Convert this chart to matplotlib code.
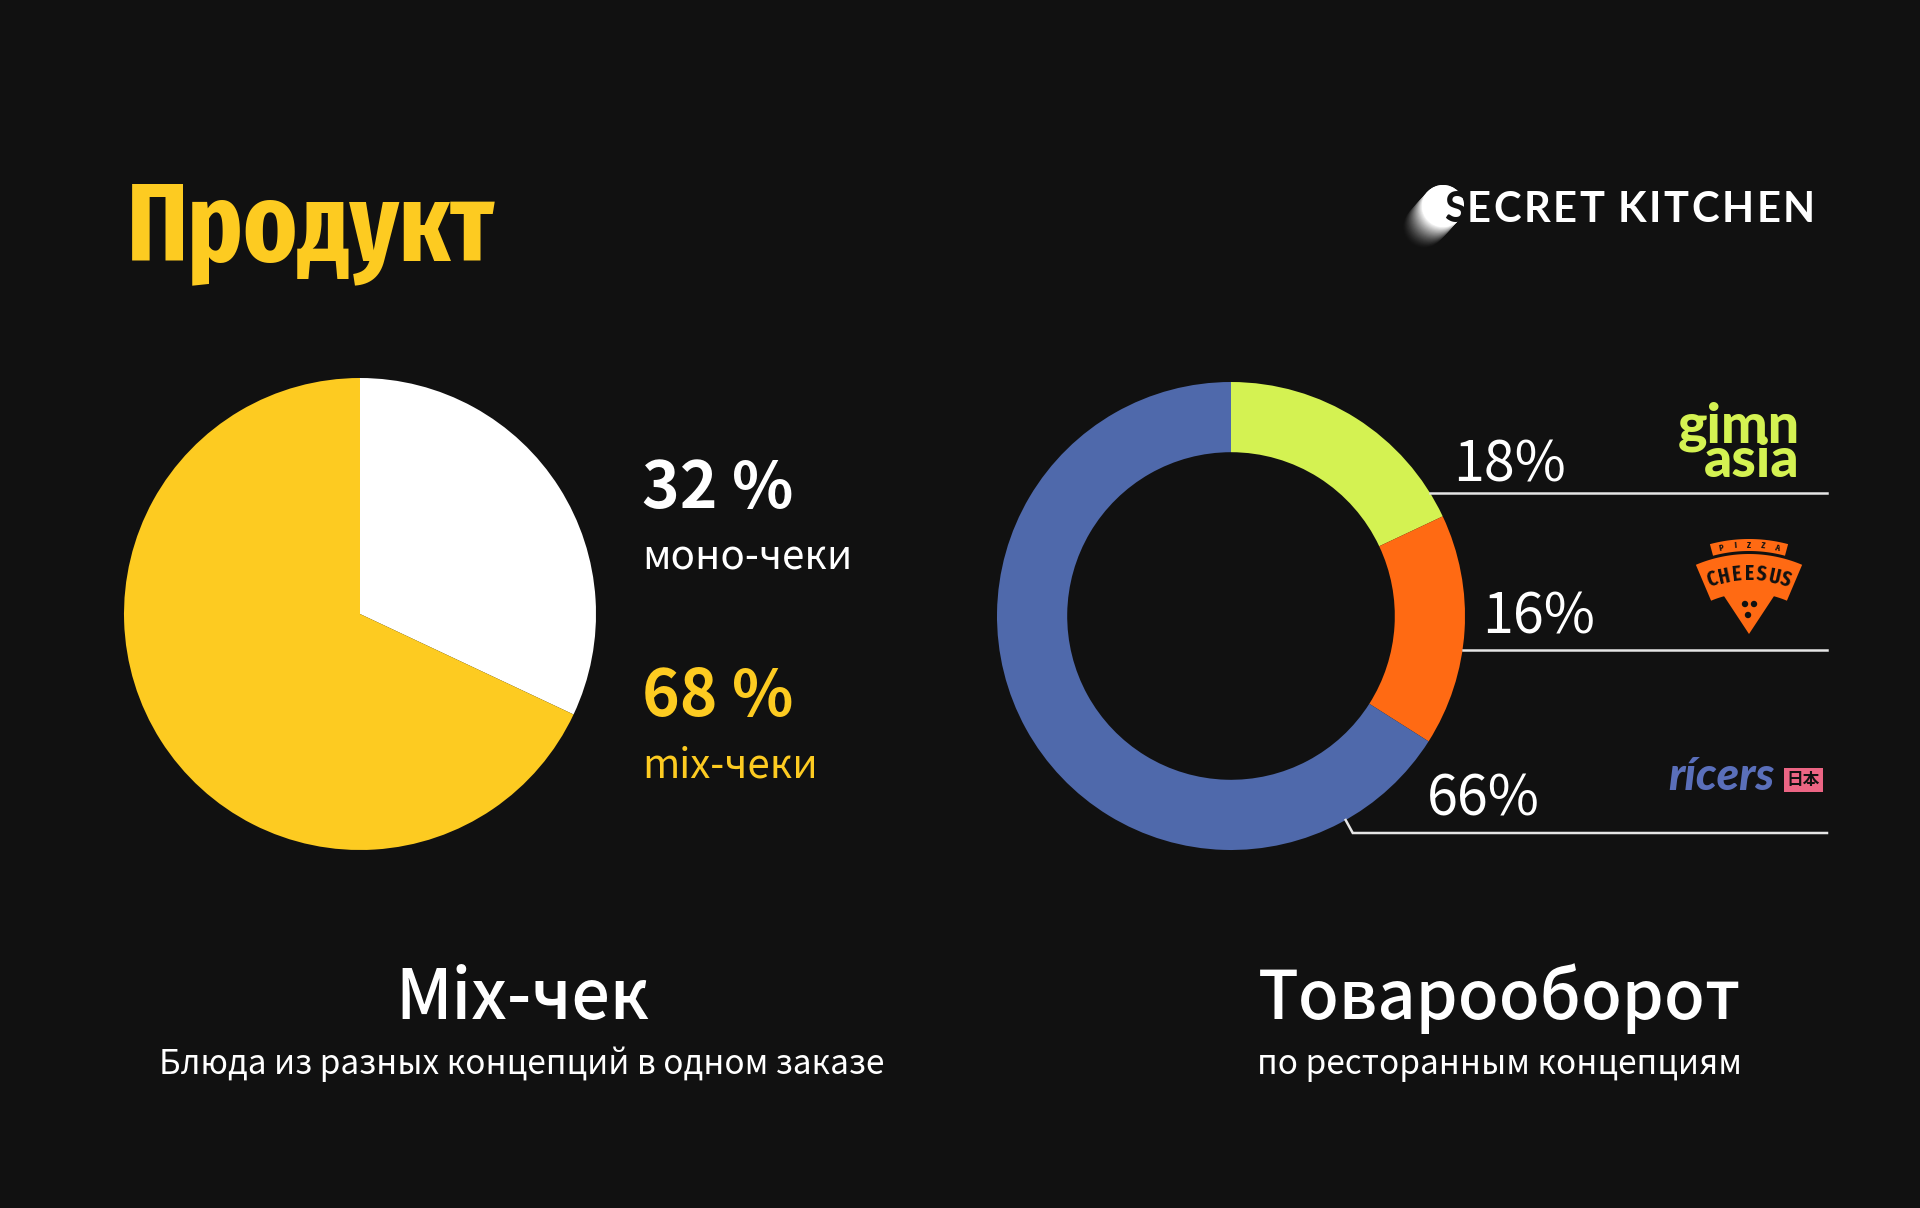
import matplotlib.pyplot as plt
from matplotlib.patches import Circle, Polygon, Rectangle
import numpy as np

W, H = 1920, 1208
BG = '#111111'
YELLOW = '#FDCB21'

# chart data
check_labels = ['моно-чеки', 'mix-чеки']
check_values = [32, 68]
check_colors = ['#FFFFFF', YELLOW]

brand_names = ['gimn asia', 'Pizza Cheesus', 'rícers']
brand_values = [18, 16, 66]
brand_colors = ['#D4F252', '#FF6A13', '#4F69AB']

SANS = ['Noto Sans CJK JP', 'DejaVu Sans']
COND = ['Fira Sans Extra Condensed', 'Roboto Condensed', 'DejaVu Sans']
LOGO = ['Lato', 'DejaVu Sans']

fig = plt.figure(figsize=(W / 100, H / 100), dpi=100, facecolor=BG)


def fx(x):
    return x / W


def fy(y):
    return 1 - y / H


def put(x, y, s, **kw):
    kw.setdefault('family', SANS)
    kw.setdefault('va', 'baseline')
    return fig.text(fx(x), fy(y), s, **kw)


# left pie
pc, pr = (360, 614), 236
ax1 = fig.add_axes([fx(pc[0] - pr), fy(pc[1] + pr), 2 * pr / W, 2 * pr / H])
ax1.pie(check_values, colors=check_colors, startangle=90, counterclock=False,
        wedgeprops=dict(linewidth=0))
ax1.set_xlim(-1, 1)
ax1.set_ylim(-1, 1)
ax1.set_aspect('equal')

# right donut
dc, dr = (1231, 616), 234
ax2 = fig.add_axes([fx(dc[0] - dr), fy(dc[1] + dr), 2 * dr / W, 2 * dr / H])
ax2.pie(brand_values, colors=brand_colors, startangle=90, counterclock=False,
        wedgeprops=dict(width=0.30, linewidth=0))
ax2.set_xlim(-1, 1)
ax2.set_ylim(-1, 1)
ax2.set_aspect('equal')

# overlay in pixel coords (y down)
ov = fig.add_axes([0, 0, 1, 1])
ov.set_xlim(0, W)
ov.set_ylim(H, 0)
ov.axis('off')

# title
put(127, 260, 'Продукт', family=COND, weight='bold', fontsize=80, color=YELLOW)

# pie annotations
pie_txt_colors = ['white', YELLOW]
pie_txt_y = [(508, 570), (716, 778)]
for lab, v, c, (y1, y2) in zip(check_labels, check_values, pie_txt_colors, pie_txt_y):
    put(642, y1, f'{v} %', weight='bold', fontsize=46, color=c)
    put(642, y2, lab, fontsize=29, color=c)

# donut leader lines and percentages
line_y = [493, 650, 833]
elbow = [0, 0, 13]
pct_xy = [(1453, 482), (1482, 633), (1427, 815)]
for v, ly, e, (tx, ty) in zip(brand_values, line_y, elbow, pct_xy):
    y0 = ly - e
    x0 = dc[0] + np.sqrt(dr ** 2 - (y0 - dc[1]) ** 2)
    ov.plot([x0, x0 + e * 0.55, 1827], [y0, ly, ly], color='#E6E6E6', lw=1.8,
            solid_joinstyle='miter')
    put(tx, ty, f'{v}%', fontsize=40, color='white')

# bottom captions
put(522, 1019, 'Mix-чек', ha='center', fontsize=49, weight='medium', color='white')
put(522, 1074, 'Блюда из разных концепций в одном заказе', ha='center',
    fontsize=24, color='white')
put(1499, 1019, 'Товарооборот', ha='center', fontsize=48, weight='medium', color='white')
put(1499, 1074, 'по ресторанным концепциям', ha='center', fontsize=24, color='white')

# Secret Kitchen logo
head, tail, br = np.array([1443, 206]), np.array([1423, 228]), 21
for t in np.linspace(0, 1, 30):
    c = (1 - t ** 1.6) * np.array([0.067, 0.067, 0.067]) + t ** 1.6 * np.ones(3)
    ov.add_patch(Circle(tail + t * (head - tail), br, color=c, lw=0))
ov.add_patch(Circle(head, br, color='white', lw=0))
logo_font = dict(family=LOGO, weight='bold', fontsize=30)
put(1444, 222, 'S', color=BG, **logo_font)
word = 'ECRET KITCHEN'
rend = fig.canvas.get_renderer()
widths = []
for ch in word:
    if ch == ' ':
        widths.append(8)
        continue
    t = fig.text(0, 0, ch, **logo_font)
    widths.append(t.get_window_extent(rend).width)
    t.remove()
gap = (1815 - 1467 - sum(widths)) / (len(word) - 1)
x = 1467
for ch, w in zip(word, widths):
    if ch != ' ':
        put(x, 222, ch, color='white', **logo_font)
    x += w + gap

# gimn asia
put(1800, 477, 'gimn\nasia', ha='right', multialignment='right', linespacing=0.6,
    family=LOGO, weight='black', fontsize=40, color=brand_colors[0])

# Pizza Cheesus badge
cx, cy = 1749, 690


def band(r1, r2, a, n=40):
    th = np.radians(np.linspace(-a, a, n))
    outer = np.c_[cx + r2 * np.sin(th), cy - r2 * np.cos(th)]
    inner = np.c_[cx + r1 * np.sin(th), cy - r1 * np.cos(th)][::-1]
    return np.vstack([outer, inner])


orange = brand_colors[1]
ov.add_patch(Polygon([(1720, 590), (1778, 590), (1749, 634)], color=orange, lw=0))
for dx, dy in [(-4, 604), (5, 604), (-1, 615)]:
    ov.add_patch(Circle((cx + dx, dy), 3.2, color=BG, lw=0))
ov.add_patch(Polygon(band(97, 136, 23), closed=True, color=orange, lw=0))
ov.add_patch(Polygon(band(139, 151, 15), closed=True, color=orange, lw=0))
for i, ch in enumerate('CHEESUS'):
    a = np.radians(-18.5 + i * 37 / 6)
    fig.text(fx(cx + 116 * np.sin(a)), fy(cy - 116 * np.cos(a)), ch,
             family=COND, weight='bold', fontsize=15, color=BG, ha='center',
             va='center', rotation=-np.degrees(a), rotation_mode='anchor')
for i, ch in enumerate('PIZZA'):
    a = np.radians(-11 + i * 22 / 4)
    fig.text(fx(cx + 145 * np.sin(a)), fy(cy - 145 * np.cos(a)), ch,
             family=COND, weight='bold', fontsize=6.5, color=BG, ha='center',
             va='center', rotation=-np.degrees(a), rotation_mode='anchor')

# ricers
put(1668, 790, 'rícers', family=LOGO, weight='black', style='italic',
    fontsize=33, color='#5A6FBA')
ov.add_patch(Rectangle((1784, 768), 39, 24, color='#EC6584', lw=0))
fig.text(fx(1803.5), fy(780), '日本', family=SANS, fontsize=12, color=BG,
         ha='center', va='center', weight='bold')

fig.savefig('out.png', dpi=100, facecolor=BG)
